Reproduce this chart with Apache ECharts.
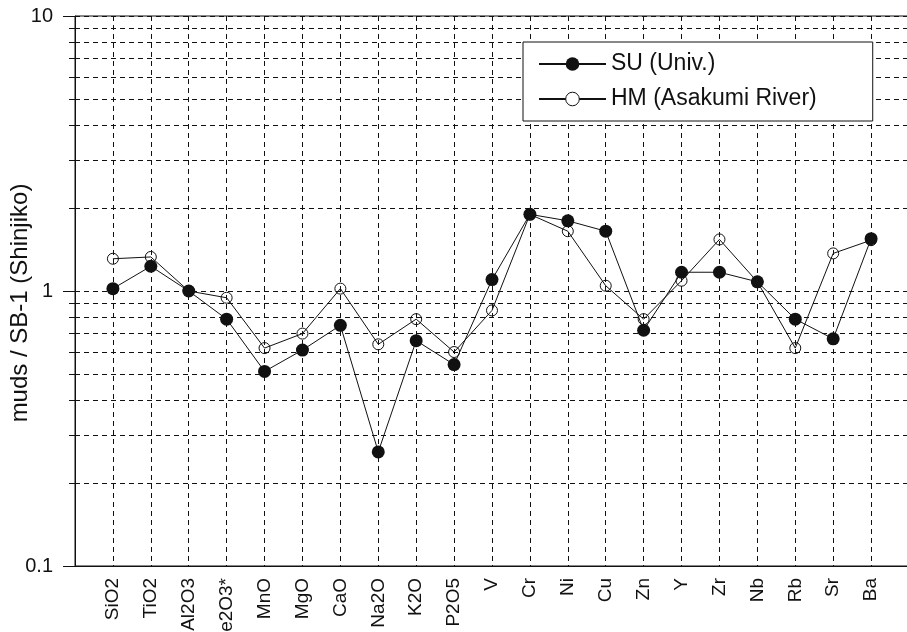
<!DOCTYPE html>
<html>
<head>
<meta charset="utf-8">
<script src="https://cdn.jsdelivr.net/npm/echarts@6/dist/echarts.min.js"></script>
<style>html,body{margin:0;padding:0;background:#fff}#c{width:907px;height:632px}</style>
</head>
<body>
<div id="c"></div>
<script>
var categories = ['SiO2','TiO2','Al2O3','Fe2O3*','MnO','MgO','CaO','Na2O','K2O','P2O5','V','Cr','Ni','Cu','Zn','Y','Zr','Nb','Rb','Sr','Ba'];
var suValues = [1.02,1.23,1.00,0.79,0.51,0.61,0.75,0.26,0.66,0.54,1.10,1.90,1.80,1.65,0.72,1.17,1.17,1.08,0.79,0.67,1.55];
var hmValues = [1.31,1.33,1.00,0.945,0.62,0.70,1.02,0.64,0.79,0.60,0.85,1.90,1.65,1.045,0.79,1.09,1.54,1.08,0.62,1.37,1.53];
var seriesNames = ['SU (Univ.)','HM (Asakumi River)'];
var yTickLabels = ['0.1','1','10'];

function toPairs(vals){ return vals.map(function(v,i){ return [i+1, v]; }); }
var dashed = {color:'#111', width:1, type:[5,4]};
var FONT = 'Liberation Sans, Arial, Helvetica, sans-serif';

var chart = echarts.init(document.getElementById('c'), null, {renderer:'canvas'});
chart.setOption({
  animation:false,
  backgroundColor:'#fff',
  grid:{left:75, top:16, width:834, height:550, outerBoundsMode:'none', containLabel:false,
        show:true, borderColor:'#111', borderWidth:1, backgroundColor:'transparent'},
  legend:{
    left:523, top:42, orient:'vertical', selectedMode:false,
    backgroundColor:'#fff', borderColor:'#111', borderWidth:1,
    padding:[9,56,9,15], itemWidth:67, itemHeight:17, itemGap:9,
    textStyle:{fontFamily:FONT, fontSize:23, color:'#111', lineHeight:26},
    data:[
      {name:seriesNames[0]},
      {name:seriesNames[1], itemStyle:{color:'#fff', borderColor:'#111', borderWidth:1}}
    ]
  },
  xAxis:{
    type:'value', min:0, max:categories.length+1, interval:1,
    axisLine:{show:true, onZero:false, lineStyle:{color:'#111', width:1}},
    axisTick:{show:false},
    splitLine:{show:true, lineStyle:dashed},
    axisLabel:{
      rotate:90, margin:12, fontFamily:FONT, fontSize:19, color:'#111',
      formatter:function(v){ return categories[v-1] || ''; }
    }
  },
  yAxis:{
    type:'log', logBase:10, min:0.1, max:10,
    name:'muds / SB-1 (Shinjiko)', nameLocation:'middle', nameGap:43, nameMoveOverlap:false,
    nameTextStyle:{fontFamily:FONT, fontSize:24, color:'#111', padding:[0,24,0,0]},
    axisLine:{show:true, lineStyle:{color:'#111', width:1}},
    axisTick:{show:true, length:12, lineStyle:{color:'#111'}},
    minorTick:{show:true, splitNumber:9, length:6, lineStyle:{color:'#111'}},
    splitLine:{show:true, lineStyle:dashed},
    minorSplitLine:{show:true, lineStyle:dashed},
    axisLabel:{margin:22, fontFamily:FONT, fontSize:20, color:'#111',
      formatter:function(v){ var i = Math.round(Math.log10(v))+1; return yTickLabels[i] !== undefined ? yTickLabels[i] : ''; }}
  },
  series:[
    {
      name:seriesNames[1], type:'line', data:toPairs(hmValues),
      symbol:'circle', symbolSize:11,
      itemStyle:{color:'rgba(255,255,255,0)', borderColor:'#111', borderWidth:1},
      lineStyle:{color:'#111', width:1}, z:3
    },
    {
      name:seriesNames[0], type:'line', data:toPairs(suValues),
      symbol:'circle', symbolSize:13,
      itemStyle:{color:'#111', borderColor:'#111', borderWidth:0},
      lineStyle:{color:'#111', width:1}, z:4
    }
  ]
});
</script>
</body>
</html>
